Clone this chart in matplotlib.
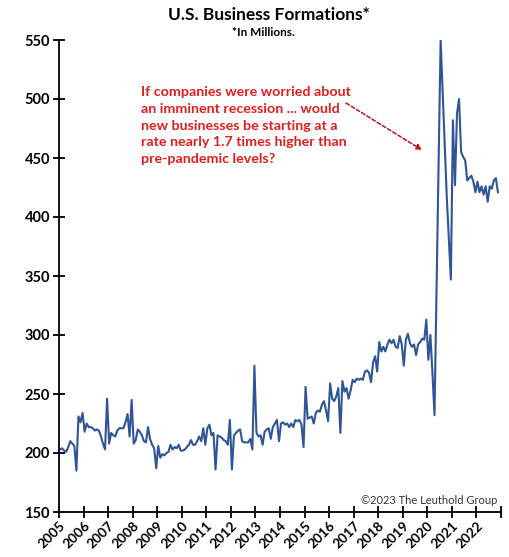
import matplotlib
matplotlib.use("Agg")
import matplotlib.pyplot as plt
import numpy as np

plt.rcParams['font.family'] = ['Lato', 'DejaVu Sans']

# Monthly business formations, Jan 2005 - Nov 2022
v2005 = [203, 204, 202, 201, 205, 210, 208, 206, 185, 231, 226, 234]
v2006 = [218, 225, 222, 222, 221, 219, 220, 219, 214, 208, 203, 246]
v2007 = [208, 217, 215, 214, 219, 221, 221, 221, 226, 233, 214, 245]
v2008 = [208, 211, 220, 218, 215, 210, 209, 222, 212, 207, 204, 187]
v2009 = [206, 196, 199, 198, 200, 201, 207, 203, 205, 204, 207, 202]
v2010 = [202, 203, 205, 207, 211, 207, 207, 210, 214, 210, 221, 207]
v2011 = [221, 224, 215, 217, 186, 215, 214, 213, 211, 210, 207, 228]
v2012 = [186, 215, 217, 219, 220, 210, 209, 209, 209, 212, 203, 274]
v2013 = [217, 214, 215, 207, 218, 220, 221, 212, 222, 225, 228, 210]
v2014 = [225, 226, 224, 225, 222, 225, 222, 228, 227, 228, 224, 205]
v2015 = [256, 229, 230, 231, 225, 234, 236, 235, 241, 244, 236, 227]
v2016 = [259, 246, 244, 248, 255, 217, 261, 252, 255, 246, 253, 262]
v2017 = [260, 263, 262, 263, 262, 269, 270, 268, 260, 277, 282, 269]
v2018 = [294, 286, 290, 286, 292, 296, 293, 296, 290, 289, 299, 292]
v2019 = [274, 296, 301, 293, 290, 292, 283, 292, 294, 297, 296, 313]
v2020 = [279, 300, 268, 232, 340, 445, 550, 506, 461, 417, 382, 347]
v2021 = [482, 427, 488, 500, 455, 451, 448, 431, 433, 435, 430, 421]
v2022 = [430, 421, 426, 419, 426, 413, 426, 424, 431, 433, 421]

values = (v2005 + v2006 + v2007 + v2008 + v2009 + v2010 + v2011 + v2012 + v2013 +
          v2014 + v2015 + v2016 + v2017 + v2018 + v2019 + v2020 + v2021 + v2022)
start_year = 2005
years = list(range(2005, 2024))
year_labels = [str(y) for y in range(2005, 2023)] + ['']
y_ticks = [150, 200, 250, 300, 350, 400, 450, 500, 550]

title = "U.S. Business Formations*"
subtitle = "*In Millions."
note = ("If companies were worried about\nan imminent recession ... would\n"
        "new businesses be starting at a\nrate nearly 1.7 times higher than\n"
        "pre-pandemic levels?")
credit = "\u00a92023 The Leuthold Group"

W, H = 510, 557
fig = plt.figure(figsize=(W / 100, H / 100), dpi=100)
ax = fig.add_axes([59 / W, (H - 512) / H, 442 / W, 472 / H])

x = start_year + (np.arange(len(values)) + 0.5) / 12.0
ax.plot(x, values, color='#2f5597', lw=1.5, solid_joinstyle='round')

ax.set_xlim(2005, 2023)
ax.set_ylim(150, 550)
ax.set_yticks(y_ticks)
ax.set_yticklabels([str(v) for v in y_ticks], fontsize=10.5, fontweight='bold')
ax.set_xticks(years)
ax.set_xticklabels(year_labels, rotation=45, ha='right', va='top',
                   rotation_mode='anchor', fontsize=9.8, fontweight='bold')
for s in ['top', 'right']:
    ax.spines[s].set_visible(False)
for s in ['left', 'bottom']:
    ax.spines[s].set_linewidth(1.3)
ax.tick_params(axis='both', direction='inout', length=9, width=1.3)
ax.tick_params(axis='x', pad=1)
ax.tick_params(axis='y', pad=2)

fig.text(269 / W, 1 - 15 / H, title, ha='center', va='center',
         fontsize=12.5, fontweight='bold')
fig.text(263 / W, 1 - 32 / H, subtitle, ha='center', va='center',
         fontsize=8.5, fontweight='bold')

fig.text(141 / W, 1 - 86 / H, note, ha='left', va='top', color='#e01e1e',
         fontsize=10.3, fontweight='bold', linespacing=1.48)

ax.annotate('', xy=(422 / W, 1 - 150 / H), xycoords='figure fraction',
            xytext=(346 / W, 1 - 103 / H), textcoords='figure fraction',
            arrowprops=dict(arrowstyle='-|>', color='#c0141c', lw=1.1,
                            linestyle=(0, (2.5, 1.5)), mutation_scale=8,
                            shrinkA=0, shrinkB=0))

fig.text(497 / W, 1 - 500 / H, credit, ha='right', va='center',
         fontsize=8, color='#333333')

fig.savefig('out.png', dpi=100)
